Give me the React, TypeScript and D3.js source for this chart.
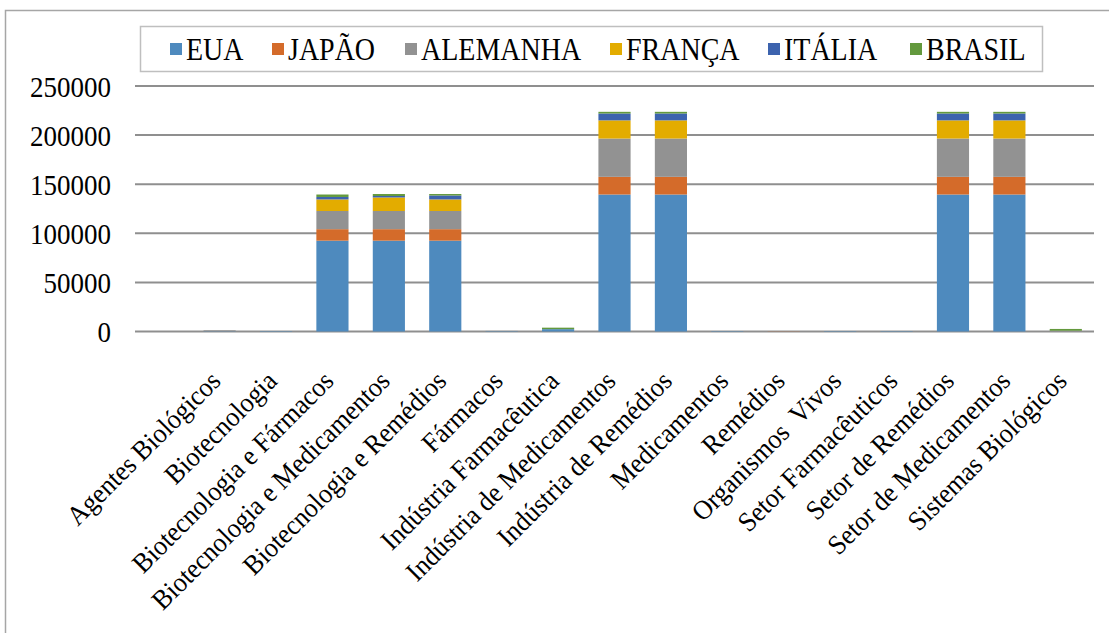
import React, { useEffect, useRef } from 'react';
import * as d3 from 'd3';

// categories (first one is the blank row of the spreadsheet)
const categories = [
  '',
  'Agentes Biológicos',
  'Biotecnologia',
  'Biotecnologia e Fármacos',
  'Biotecnologia e Medicamentos',
  'Biotecnologia e Remédios',
  'Fármacos',
  'Indústria Farmacêutica',
  'Indústria de Medicamentos',
  'Indústria de Remédios',
  'Medicamentos',
  'Remédios',
  'Organismos  Vivos',
  'Setor Farmacêuticos',
  'Setor de Remédios',
  'Setor de Medicamentos',
  'Sistemas Biológicos',
];

const seriesNames = ['EUA', 'JAPÃO', 'ALEMANHA', 'FRANÇA', 'ITÁLIA', 'BRASIL'];
const seriesColors = ['#4E8ABE', '#D46B2A', '#929292', '#E3AC00', '#3C63AE', '#63993D'];

const eua = [0, 300, 400, 92500, 92500, 92500, 400, 2400, 139500, 139500, 400, 0, 400, 400, 139500, 139500, 0];
const japao = [0, 0, 0, 11700, 11700, 11700, 0, 0, 18000, 18000, 0, 200, 0, 0, 18000, 18000, 0];
const alemanha = [0, 900, 0, 18500, 18500, 18500, 200, 0, 39000, 39000, 0, 200, 0, 0, 39000, 39000, 800];
const franca = [0, 0, 0, 11800, 13800, 11800, 0, 0, 18500, 18500, 0, 0, 0, 0, 18500, 18500, 0];
const italia = [0, 0, 0, 2500, 1500, 4000, 0, 0, 7000, 7000, 0, 0, 0, 0, 7000, 7000, 0];
const brasil = [0, 0, 0, 2500, 2000, 1500, 0, 1500, 1700, 1700, 0, 0, 0, 0, 1700, 1700, 1800];

const yTicks = [0, 50000, 100000, 150000, 200000, 250000];

const W = 1109;
const H = 633;
const FONT = '"Liberation Serif", "Times New Roman", serif';
const STRETCH = 1.13; // text in the picture is a little taller than wide

const App: React.FC = () => {
  const svgRef = useRef<SVGSVGElement>(null);

  useEffect(() => {
    if (!svgRef.current) return;
    const svg = d3.select(svgRef.current);
    svg.selectAll('*').remove();

    const plot = { left: 135, right: 1094, top: 86, bottom: 331.5 };
    const values = [eua, japao, alemanha, franca, italia, brasil];
    const rows = categories.map((c, i) => {
      const r: any = { cat: c };
      seriesNames.forEach((s, k) => (r[s] = values[k][i]));
      return r;
    });

    const x = d3.scaleBand().domain(categories).range([plot.left, plot.right]).paddingInner(0.43).paddingOuter(0.215);
    const y = d3.scaleLinear().domain([0, 250000]).range([plot.bottom, plot.top]);

    // outer chart frame
    svg.append('rect')
      .attr('x', 5.5).attr('y', 10.5).attr('width', W + 10).attr('height', H + 10)
      .attr('fill', 'white').attr('stroke', '#a6a6a6').attr('stroke-width', 1.5);

    // gridlines
    svg.append('g')
      .selectAll('line')
      .data(yTicks)
      .join('line')
      .attr('x1', plot.left).attr('x2', plot.right)
      .attr('y1', d => y(d)).attr('y2', d => y(d))
      .attr('stroke', '#8f8f8f').attr('stroke-width', 2);

    // y tick labels
    svg.append('g')
      .selectAll('text')
      .data(yTicks)
      .join('text')
      .attr('transform', d => `translate(111,${y(d)}) scale(1,${STRETCH})`)
      .attr('dy', '0.36em')
      .attr('text-anchor', 'end')
      .attr('font-family', FONT).attr('font-size', 27)
      .text(d => String(d));

    // stacked bars
    const stacked = d3.stack<any>().keys(seriesNames)(rows);
    svg.append('g')
      .selectAll('g')
      .data(stacked)
      .join('g')
      .attr('fill', (_, i) => seriesColors[i])
      .selectAll('rect')
      .data(d => d)
      .join('rect')
      .attr('x', d => x(d.data.cat) || 0)
      .attr('width', x.bandwidth())
      .attr('y', d => y(d[1]))
      .attr('height', d => Math.max(0, y(d[0]) - y(d[1])));

    // category labels
    svg.append('g')
      .selectAll('text')
      .data(categories.filter(c => c !== ''))
      .join('text')
      .attr('transform', d => `translate(${(x(d) || 0) + x.bandwidth() / 2 - 11},${369}) rotate(-45) scale(1,1.06)`)
      .attr('dy', '0.7em')
      .attr('text-anchor', 'end')
      .attr('font-family', FONT).attr('font-size', 26)
      .style('white-space', 'pre')
      .text(d => d);

    // legend
    const lg = svg.append('g');
    lg.append('rect')
      .attr('x', 140.5).attr('y', 26.5).attr('width', 902).attr('height', 45)
      .attr('fill', 'white').attr('stroke', '#bfbfbf').attr('stroke-width', 1.5);
    const legendX = [170, 272, 405, 610, 768, 910];
    seriesNames.forEach((s, i) => {
      lg.append('rect')
        .attr('x', legendX[i]).attr('y', 43).attr('width', 12).attr('height', 12)
        .attr('fill', seriesColors[i]);
      lg.append('text')
        .attr('transform', `translate(${legendX[i] + 16},49) scale(1,${STRETCH})`)
        .attr('dy', '0.36em')
        .attr('font-family', FONT).attr('font-size', 28)
        .text(s);
    });
  }, []);

  return (
    <svg ref={svgRef} width={W} height={H} style={{ position: 'absolute', left: 0, top: 0 }} />
  );
};

export default App;
